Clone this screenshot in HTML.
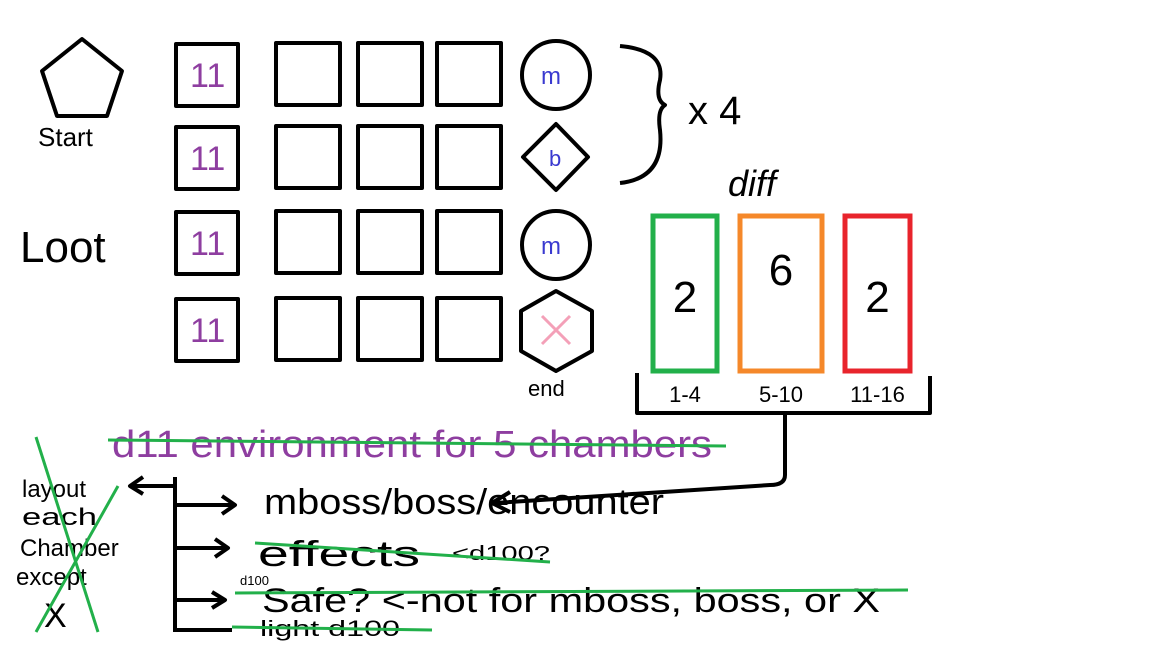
<!DOCTYPE html>
<html><head><meta charset="utf-8"><style>
html,body{margin:0;padding:0;background:#fff;}
svg{display:block;}
text{font-family:"Liberation Sans",sans-serif;}
</style></head><body>
<svg id="s" width="1152" height="648" viewBox="0 0 1152 648">
<rect width="1152" height="648" fill="#fff"/>
<g fill="none" stroke="#000" stroke-width="4" stroke-linejoin="round">
<polygon points="82,39 122,71 107,116 57,116 42,71"/>
<g>
<rect x="176" y="44" width="62" height="62"/><rect x="276" y="43" width="64" height="62"/><rect x="358" y="43" width="64" height="62"/><rect x="437" y="43" width="64" height="62"/>
<rect x="176" y="127" width="62" height="62"/><rect x="276" y="126" width="64" height="62"/><rect x="358" y="126" width="64" height="62"/><rect x="437" y="126" width="64" height="62"/>
<rect x="176" y="212" width="62" height="62"/><rect x="276" y="211" width="64" height="62"/><rect x="358" y="211" width="64" height="62"/><rect x="437" y="211" width="64" height="62"/>
<rect x="176" y="299" width="62" height="62"/><rect x="276" y="298" width="64" height="62"/><rect x="358" y="298" width="64" height="62"/><rect x="437" y="298" width="64" height="62"/>
</g>
<circle cx="556" cy="75" r="34"/>
<polygon points="556,124 588,157 556,190 523,157"/>
<circle cx="556" cy="245" r="34"/>
<polygon points="556,291 592,311 592,351 556,371 521,351 521,311"/>
<path d="M620,46 Q665,50 660,80 Q655,100 665,105 Q657,110 660,130 Q665,178 620,183"/>
<path d="M637,373 L637,413 L930,413 L930,376 M785,413 L785,475 Q785,485 770,485 L495,503 M510,492 L492,503 L510,512"/>
<path d="M175,477 L175,632 M175,486 L130,486 M143,477 L130,486 L143,494 M175,505 L235,505 M222,496 L235,505 L222,514 M175,548 L228,548 M215,539 L228,548 L215,557 M175,600 L225,600 M212,592 L225,600 L212,608 M175,630 L232,630"/>
</g>
<g font-size="34" fill="#8e3ea0">
<text x="190" y="87">11</text><text x="190" y="170">11</text><text x="190" y="255">11</text><text x="190" y="342">11</text>
</g>
<text x="541" y="84" font-size="24" fill="#3a3ad0">m</text>
<text x="549" y="166" font-size="22" fill="#3a3ad0">b</text>
<text x="541" y="254" font-size="24" fill="#3a3ad0">m</text>
<path d="M542,316 L570,344 M570,316 L542,344" stroke="#f4a0b8" stroke-width="3"/>
<text x="38" y="146" font-size="26">Start</text>
<text x="20" y="262" font-size="44">Loot</text>
<text x="528" y="396" font-size="22">end</text>
<text x="688" y="124" font-size="40">x 4</text>
<text x="728" y="196" font-size="36" font-style="italic">diff</text>
<g id="diff"></g>
<text x="112" y="457" font-size="38" fill="#8e3ea0" textLength="600" lengthAdjust="spacingAndGlyphs">d11 environment for 5 chambers</text>
<line x1="108" y1="440" x2="726" y2="446" stroke="#22b04a" stroke-width="3"/>
<g font-size="24">
<text x="22" y="497">layout</text><text x="22" y="525" textLength="75" lengthAdjust="spacingAndGlyphs">each</text><text x="20" y="556">Chamber</text><text x="16" y="585">except</text><text x="44" y="627" font-size="34">X</text>
</g>
<path d="M36,437 L98,632 M118,486 L36,632" stroke="#22b04a" stroke-width="3" fill="none"/>
<text x="264" y="514" font-size="36" textLength="400" lengthAdjust="spacingAndGlyphs">mboss/boss/encounter</text>
<text x="258" y="566" font-size="36" textLength="162" lengthAdjust="spacingAndGlyphs">effects</text>
<text x="452" y="560" font-size="20" textLength="98" lengthAdjust="spacingAndGlyphs">&lt;d100?</text>
<line x1="255" y1="543" x2="550" y2="562" stroke="#22b04a" stroke-width="3"/>
<text x="240" y="585" font-size="13">d100</text>
<text x="262" y="612" font-size="34" textLength="618" lengthAdjust="spacingAndGlyphs">Safe? &lt;-not for mboss, boss, or X</text>
<line x1="235" y1="593" x2="908" y2="590" stroke="#22b04a" stroke-width="3"/>
<text x="260" y="636" font-size="22" textLength="140" lengthAdjust="spacingAndGlyphs">light d100</text>
<line x1="232" y1="627" x2="432" y2="630" stroke="#22b04a" stroke-width="3"/>
<script>
const diffCounts=[2,6,2];
const diffRanges=["1-4","5-10","11-16"];
const diffColors=["#22b04a","#f5882a","#e8242c"];
const xs=[653,740,845], ws=[64,82,65];
const g=document.getElementById('diff');
const NS='http://www.w3.org/2000/svg';
diffCounts.forEach((c,i)=>{
 const r=document.createElementNS(NS,'rect');
 
 
 r.setAttribute('x',xs[i]);r.setAttribute('y',216);r.setAttribute('width',ws[i]);r.setAttribute('height',155);
 r.setAttribute('fill','none');r.setAttribute('stroke',diffColors[i]);r.setAttribute('stroke-width',5);
 g.appendChild(r);
 const t=document.createElementNS(NS,'text');
 
 
 t.setAttribute('x',xs[i]+ws[i]/2);t.setAttribute('y',i==1?285:312);t.setAttribute('text-anchor','middle');t.setAttribute('font-size',44);
 t.textContent=c;g.appendChild(t);
 const l=document.createElementNS(NS,'text');
 
 
 l.setAttribute('x',xs[i]+ws[i]/2);l.setAttribute('y',402);l.setAttribute('text-anchor','middle');l.setAttribute('font-size',22);
 l.textContent=diffRanges[i];g.appendChild(l);
});
</script>
</svg>
</body></html>
